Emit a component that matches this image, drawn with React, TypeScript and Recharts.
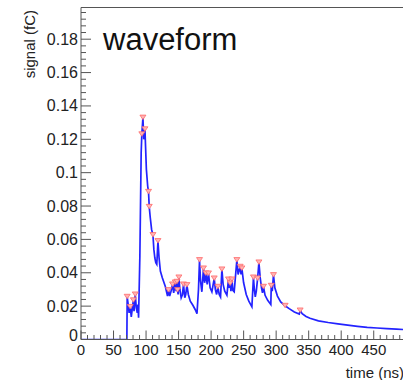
import React from 'react';
import { ComposedChart, Line, XAxis, YAxis, ReferenceLine } from 'recharts';

const times = [
  0, 70.5, 71, 72.5, 74, 75.7, 77.3, 79, 80.5, 81.5, 83.4, 85, 86.5, 87.5, 88.5, 90.5, 92.5, 93.5, 95.2, 96.5,
  98.3, 100.5, 102.5, 103.8, 104.9, 106.5, 108.5, 110.6, 112, 113.5, 115, 116.5, 118.3, 120, 122, 125, 129.5, 133,
  134.6, 136.3, 138.5, 140.7, 142.5, 144.9, 146.3, 147.5, 148.4, 149.3, 150.5, 152, 154, 156, 157.6, 159.5, 161,
  162.8, 165, 168, 172, 175.5, 178.3, 180.6, 182.2, 183.8, 185.8, 188.3, 190, 192, 194, 196, 198.5, 201.2, 204.8,
  206.5, 208.5, 210.4, 212.5, 214.5, 216.6, 218.5, 221, 224.3, 226.7, 228, 229.3, 230.5, 232, 233.5, 235.5, 237.5,
  239.6, 241.5, 244.7, 246, 247.3, 250, 254, 258, 262.7, 265.1, 266.5, 267.9, 269.5, 271.5, 273.5, 275.5, 277.5,
  279, 280.5, 283, 287, 291.8, 292.5, 294, 295.9, 298, 302, 307, 313.8, 320, 328, 335.5, 336.9, 340, 346, 352,
  365, 380, 395, 410, 425, 440, 455, 470, 485, 495,
];
const signal = [
  0, 0, 0.0256, 0.021, 0.016, 0.0195, 0.0135, 0.019, 0.0235, 0.017, 0.027, 0.019, 0.016, 0.021, 0.013, 0.05,
  0.112, 0.123, 0.133, 0.12, 0.126, 0.102, 0.092, 0.0885, 0.0795, 0.073, 0.066, 0.0626, 0.054, 0.049, 0.046,
  0.045, 0.059, 0.049, 0.041, 0.037, 0.032, 0.026, 0.0296, 0.026, 0.029, 0.033, 0.028, 0.0342, 0.029, 0.0346,
  0.0296, 0.027, 0.0372, 0.03, 0.025, 0.027, 0.033, 0.025, 0.027, 0.0326, 0.027, 0.023, 0.0205, 0.018, 0.0155,
  0.03, 0.0476, 0.035, 0.0286, 0.0426, 0.034, 0.0396, 0.033, 0.0396, 0.031, 0.0286, 0.0366, 0.03, 0.027, 0.0316,
  0.027, 0.0255, 0.042, 0.033, 0.029, 0.0266, 0.036, 0.031, 0.0336, 0.029, 0.036, 0.0295, 0.0286, 0.038, 0.0476,
  0.039, 0.0436, 0.039, 0.0426, 0.034, 0.027, 0.023, 0.0196, 0.0372, 0.03, 0.0256, 0.029, 0.0366, 0.0462, 0.037,
  0.031, 0.028, 0.0316, 0.0265, 0.0235, 0.021, 0.0322, 0.029, 0.0386, 0.031, 0.026, 0.0225, 0.0202, 0.0185,
  0.0165, 0.0152, 0.0174, 0.0155, 0.0138, 0.0127, 0.0112, 0.0102, 0.0094, 0.0086, 0.0079, 0.0073, 0.0069,
  0.0065, 0.0062, 0.006,
];

const peakTimes = [
  71, 75.7, 80.5, 83.4, 93.5, 95.2, 98.3, 103.8, 104.9, 110.6, 118.3, 134.6, 140.7, 144.9, 147.5, 148.4, 150.5,
  157.6, 162.8, 182.2, 188.3, 192, 196, 204.8, 210.4, 216.6, 226.7, 229.3, 232, 239.6, 244.7, 247.3, 265.1,
  271.5, 273.5, 280.5, 292.5, 295.9, 313.8, 336.9,
];
const peakSignal = [
  0.0256, 0.0195, 0.0235, 0.027, 0.123, 0.133, 0.126, 0.0885, 0.0795, 0.0626, 0.059, 0.0296, 0.033, 0.0342,
  0.0346, 0.0296, 0.0372, 0.033, 0.0326, 0.0476, 0.0426, 0.0396, 0.0396, 0.0366, 0.0316, 0.042, 0.036, 0.0336,
  0.036, 0.0476, 0.0436, 0.0426, 0.0372, 0.0366, 0.0462, 0.0316, 0.0322, 0.0386, 0.0202, 0.0174,
];

const xMajorTicks = [0, 50, 100, 150, 200, 250, 300, 350, 400, 450];
const xTickLabels = ['0', '50', '100', '150', '200', '250', '300', '350', '400', '450'];
const yMajorTicks = [0, 0.02, 0.04, 0.06, 0.08, 0.1, 0.12, 0.14, 0.16, 0.18];
const yTickLabels = ['0', '0.02', '0.04', '0.06', '0.08', '0.1', '0.12', '0.14', '0.16', '0.18'];
const xMax = 495;
const yMax = 0.199;
const xMinorStep = 10;
const yMinorStep = 0.004;

const waveform = times.map((t, i) => ({ t, v: signal[i] }));
const peaks = peakTimes.map((t, i) => ({ t, v: peakSignal[i] }));

const xTicks: number[] = [];
for (let i = 0; i * xMinorStep <= xMax; i++) xTicks.push(i * xMinorStep);
const yTicks: number[] = [];
for (let i = 0; i * yMinorStep <= yMax; i++) yTicks.push(Math.round(i * yMinorStep * 1000) / 1000);

const FONT = '"Liberation Sans", Arial, Helvetica, sans-serif';
const AXIS = '#555';

const majorIndex = (list: number[], v: number) => list.findIndex((m) => Math.abs(m - v) < 1e-9);

const XTick = (props: any) => {
  const { x, y, payload } = props;
  const idx = majorIndex(xMajorTicks, payload.value);
  const len = idx >= 0 ? 9 : 4.5;
  return (
    <g>
      <line x1={x} x2={x} y1={y} y2={y - len} stroke={AXIS} strokeWidth={1} />
      {idx >= 0 && (
        <text x={x} y={y + 15.5} textAnchor="middle" fontSize={15} fontFamily={FONT} fill="#222">
          {xTickLabels[idx]}
        </text>
      )}
    </g>
  );
};

const YTick = (props: any) => {
  const { x, y, payload } = props;
  const idx = majorIndex(yMajorTicks, payload.value);
  const len = idx >= 0 ? 10 : 5;
  return (
    <g>
      <line x1={x} x2={x + len} y1={y} y2={y} stroke={AXIS} strokeWidth={1} />
      {idx >= 0 && (
        <text
          x={x - 3}
          y={idx === 0 ? y + 1 : y + 5.5}
          textAnchor="end"
          fontSize={16}
          fontFamily={FONT}
          fill="#222"
        >
          {yTickLabels[idx]}
        </text>
      )}
    </g>
  );
};

const Triangle = (props: any) => {
  const { cx, cy, index } = props;
  if (cx == null || cy == null) return <g key={index} />;
  return (
    <polygon
      key={index}
      points={`${cx - 3},${cy - 2.5} ${cx + 3},${cy - 2.5} ${cx},${cy + 2}`}
      fill="#ffb4b4"
      stroke="#ff6a6a"
      strokeWidth={0.8}
    />
  );
};

export default function App() {
  return (
    <div style={{ position: 'absolute', left: 0, top: 0, width: 403, height: 380, overflow: 'hidden', background: '#fff' }}>
      <ComposedChart width={403} height={380} margin={{ top: 7.5, right: 0, bottom: 0, left: 0 }}>
        <XAxis
          type="number"
          dataKey="t"
          domain={[0, xMax]}
          ticks={xTicks}
          interval={0}
          tickSize={0}
          tickMargin={0}
          tickLine={false}
          tick={<XTick />}
          axisLine={{ stroke: AXIS, strokeWidth: 1 }}
          height={40.5}
          allowDataOverflow
        />
        <YAxis
          type="number"
          dataKey="v"
          domain={[0, yMax]}
          ticks={yTicks}
          interval={0}
          tickSize={0}
          tickMargin={0}
          tickLine={false}
          tick={<YTick />}
          axisLine={{ stroke: AXIS, strokeWidth: 1 }}
          width={81}
          allowDataOverflow
        />
        <ReferenceLine y={yMax} stroke={AXIS} strokeWidth={1} />
        <Line
          data={waveform}
          dataKey="v"
          type="linear"
          stroke="#2323ff"
          strokeWidth={1.7}
          dot={false}
          activeDot={false}
          isAnimationActive={false}
        />
        <Line
          data={peaks}
          dataKey="v"
          type="linear"
          stroke="none"
          dot={<Triangle />}
          activeDot={false}
          isAnimationActive={false}
        />
      </ComposedChart>
      <svg
        width={403}
        height={380}
        style={{ position: 'absolute', left: 0, top: 0, pointerEvents: 'none' }}
      >
        <text x={103} y={50} fontSize={31} fontFamily={FONT} fill="#111">
          waveform
        </text>
        <text
          transform="translate(35,10) rotate(-90)"
          textAnchor="end"
          fontSize={15}
          fontFamily={FONT}
          fill="#222"
        >
          signal (fC)
        </text>
        <text x={404} y={378} textAnchor="end" fontSize={15} fontFamily={FONT} fill="#222">
          time (ns)
        </text>
      </svg>
    </div>
  );
}
